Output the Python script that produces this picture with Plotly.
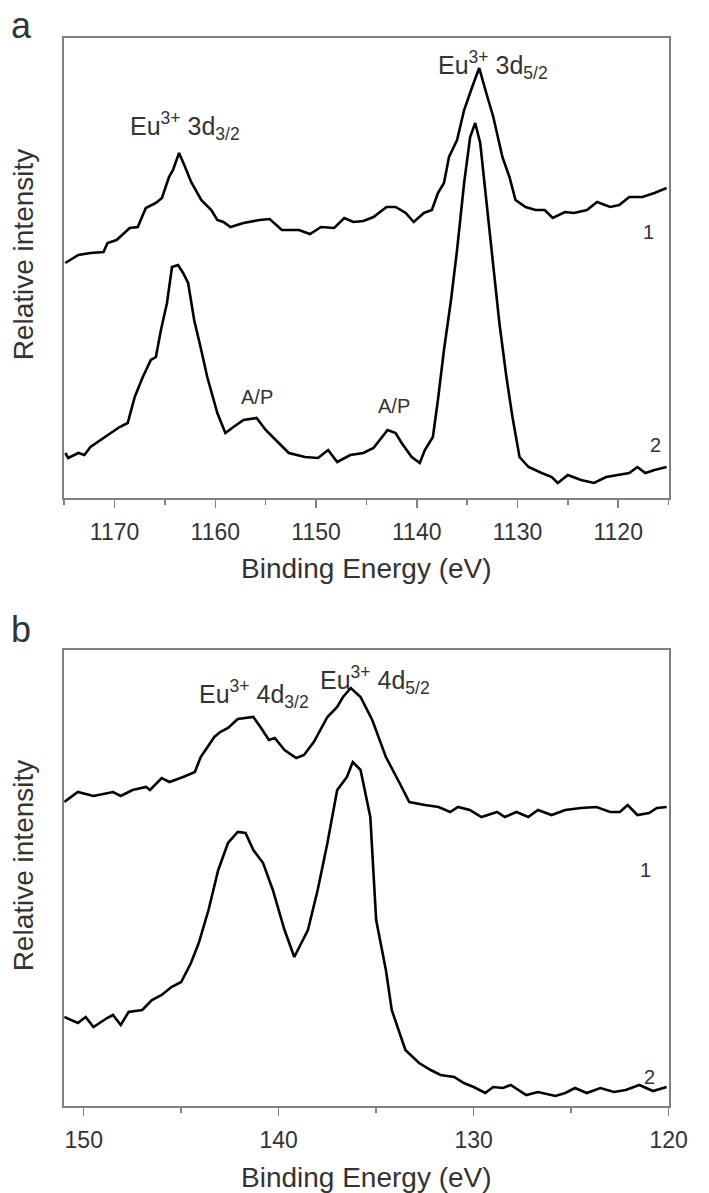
import plotly.graph_objects as go

# ---------------- Panel a : Eu 3d region ----------------
be_a1 = [1174.9, 1173.6, 1172.4, 1171.1, 1170.7, 1169.8, 1168.5, 1167.7, 1166.9, 1165.9,
         1165.3, 1164.6, 1164.2, 1163.6, 1163.0, 1162.4, 1161.4, 1160.4, 1159.8, 1159.2,
         1158.5, 1157.2, 1155.6, 1154.6, 1153.4, 1151.7, 1150.6, 1149.5, 1148.2, 1147.2,
         1146.3, 1145.3, 1144.3, 1143.0, 1142.1, 1141.1, 1140.3, 1139.3, 1138.5, 1137.9,
         1137.3, 1136.8, 1136.0, 1135.3, 1134.5, 1133.8, 1133.1, 1132.4, 1131.5, 1130.8,
         1130.2, 1129.2, 1128.2, 1127.3, 1126.5, 1125.3, 1124.4, 1123.1, 1122.1, 1120.8,
         1119.9, 1118.9, 1117.6, 1116.4, 1115.2]
int_a1 = [235, 243, 245, 246, 255, 258, 270, 271, 290, 295,
          300, 321, 328, 345, 331, 316, 298, 288, 278, 276,
          271, 275, 278, 279, 268, 268, 264, 271, 270, 280,
          276, 277, 281, 291, 291, 285, 276, 285, 288, 305,
          315, 341, 358, 388, 411, 430, 405, 381, 341, 321,
          298, 291, 288, 288, 280, 286, 285, 288, 296, 291,
          293, 301, 301, 305, 310]

be_a2 = [1174.9, 1174.6, 1173.6, 1173.0, 1172.4, 1171.4, 1170.4, 1169.5, 1168.7, 1168.0,
         1167.2, 1166.4, 1165.9, 1165.4, 1164.8, 1164.3, 1163.7, 1163.2, 1162.7, 1162.1,
         1161.4, 1160.8, 1159.8, 1159.0, 1158.2, 1157.2, 1155.9, 1155.0, 1153.7, 1152.7,
         1151.1, 1149.8, 1148.8, 1147.9, 1146.6, 1145.3, 1144.3, 1143.7, 1142.9, 1142.1,
         1141.5, 1140.5, 1139.7, 1139.2, 1138.4, 1137.9, 1137.3, 1136.6, 1136.0, 1135.3,
         1134.7, 1134.2, 1133.7, 1133.1, 1132.4, 1131.8, 1131.1, 1130.5, 1129.8, 1128.9,
         1127.6, 1126.6, 1126.0, 1125.0, 1123.7, 1122.4, 1121.2, 1119.9, 1118.9, 1118.1,
         1117.3, 1116.4, 1115.2]
int_a2 = [45, 40, 45, 43, 51, 58, 65, 71, 75, 101,
          121, 138, 141, 168, 195, 231, 233, 225, 215, 178,
          148, 121, 85, 65, 71, 78, 80, 68, 55, 45,
          41, 40, 48, 36, 43, 45, 50, 58, 68, 65,
          55, 41, 35, 48, 61, 98, 148, 198, 248, 315,
          361, 375, 355, 298, 231, 175, 121, 81, 41, 31,
          25, 21, 15, 23, 18, 15, 21, 23, 25, 31,
          25, 28, 31]

# ---------------- Panel b : Eu 4d region ----------------
be_b1 = [151.0, 150.3, 149.5, 148.5, 148.1, 147.5, 146.8, 146.6, 146.0, 145.6,
         144.9, 144.3, 144.0, 143.3, 143.0, 142.6, 142.1, 141.3, 140.9, 140.5,
         140.2, 139.7, 139.1, 138.7, 138.2, 137.5, 137.0, 136.7, 136.3, 135.8,
         135.2, 134.5, 133.8, 133.3, 132.5, 131.8, 131.2, 130.8, 130.2, 129.6,
         128.8, 128.4, 127.8, 127.2, 126.7, 126.0, 125.3, 124.5, 123.7, 123.0,
         122.5, 122.1, 121.6, 121.0, 120.6, 120.1]
int_b1 = [304, 314, 310, 314, 310, 316, 319, 316, 328, 324,
          329, 334, 349, 369, 374, 378, 387, 389, 378, 366,
          368, 356, 348, 351, 364, 389, 399, 409, 418, 409,
          386, 349, 323, 304, 301, 299, 294, 299, 296, 289,
          294, 289, 294, 289, 296, 291, 296, 298, 299, 294,
          294, 301, 291, 293, 298, 299]

be_b2 = [151.0, 150.3, 149.9, 149.5, 148.8, 148.5, 148.1, 147.7, 147.0, 146.5,
         146.0, 145.5, 145.0, 144.5, 144.1, 143.6, 143.1, 142.6, 142.1, 141.7,
         141.3, 140.8, 140.3, 139.7, 139.2, 138.5, 138.0, 137.5, 137.0, 136.5,
         136.2, 135.8, 135.3, 135.0, 134.5, 134.2, 133.5, 132.8, 132.2, 131.7,
         131.0, 130.5, 130.0, 129.4, 129.0, 128.5, 128.1, 127.3, 126.7, 125.8,
         125.3, 124.8, 124.2, 123.5, 122.8, 122.2, 121.5, 120.8, 120.1]
int_b2 = [89, 83, 89, 79, 88, 91, 81, 94, 96, 106,
          111, 119, 124, 143, 163, 196, 236, 263, 274, 273,
          256, 243, 216, 176, 149, 176, 216, 263, 316, 329,
          344, 336, 289, 186, 136, 96, 56, 43, 36, 31,
          29, 23, 19, 13, 19, 18, 21, 11, 14, 10,
          13, 18, 13, 18, 14, 16, 21, 15, 19]

ticks_a = [1170, 1160, 1150, 1140, 1130, 1120]
ticks_b = [150, 140, 130, 120]

FONT = "Liberation Sans, Arial, Helvetica, sans-serif"
TXT = "#333333"
FRAME = "#808080"
W, H = 709, 1193

fig = go.Figure()
line = dict(color="black", width=2.6)
fig.add_trace(go.Scatter(x=be_a1, y=int_a1, mode="lines", line=line, xaxis="x", yaxis="y", showlegend=False))
fig.add_trace(go.Scatter(x=be_a2, y=int_a2, mode="lines", line=line, xaxis="x", yaxis="y", showlegend=False))
fig.add_trace(go.Scatter(x=be_b1, y=int_b1, mode="lines", line=line, xaxis="x2", yaxis="y2", showlegend=False))
fig.add_trace(go.Scatter(x=be_b2, y=int_b2, mode="lines", line=line, xaxis="x2", yaxis="y2", showlegend=False))

xcommon = dict(showline=True, mirror=True, linecolor=FRAME, linewidth=2, showgrid=False, zeroline=False,
               ticks="outside", ticklen=8, tickwidth=1.5, tickcolor=FRAME,
               tickfont=dict(family=FONT, size=23, color=TXT), ticklabelstandoff=4)
ycommon = dict(showline=True, mirror=True, linecolor=FRAME, linewidth=2, showgrid=False, zeroline=False,
               showticklabels=False, ticks="")

dom_x = [66 / W, 687 / W]
fig.update_layout(
    width=W, height=H, margin=dict(l=0, r=0, t=0, b=0),
    paper_bgcolor="white", plot_bgcolor="white",
    xaxis=dict(domain=dom_x, range=[1175, 1115], tickvals=ticks_a,
               minor=dict(dtick=5, tick0=1115, ticks="outside", ticklen=5, tickcolor=FRAME, tickwidth=1.5),
               anchor="y", **xcommon),
    yaxis=dict(domain=[1 - 498 / H, 1 - 38 / H], range=[0, 460], anchor="x", **ycommon),
    xaxis2=dict(domain=dom_x, range=[151, 120], tickvals=ticks_b,
                minor=dict(dtick=5, tick0=120, ticks="outside", ticklen=5, tickcolor=FRAME, tickwidth=1.5),
                anchor="y2", **xcommon),
    yaxis2=dict(domain=[1 - 1106 / H, 1 - 650 / H], range=[0, 456], anchor="x2", **ycommon),
)

def ann(text, x, y, xref, yref, size, **kw):
    fig.add_annotation(text=text, x=x, y=y, xref=xref, yref=yref, showarrow=False,
                       font=dict(family=FONT, size=size, color=TXT), xanchor="center", yanchor="middle", **kw)

# peak labels panel a
ann("Eu<sup>3+</sup> 3d<sub>3/2</sub>", 1163.0, 372, "x", "y", 25)
ann("Eu<sup>3+</sup> 3d<sub>5/2</sub>", 1132.4, 433, "x", "y", 25)
ann("A/P", 1155.9, 101, "x", "y", 20)
ann("A/P", 1142.25, 92, "x", "y", 20)
ann("1", 1117.0, 266, "x", "y", 20)
ann("2", 1116.3, 53, "x", "y", 20)
# peak labels panel b
ann("Eu<sup>3+</sup> 4d<sub>3/2</sub>", 141.26, 412, "x2", "y2", 25)
ann("Eu<sup>3+</sup> 4d<sub>5/2</sub>", 135.07, 426, "x2", "y2", 25)
ann("1", 121.18, 236, "x2", "y2", 20)
ann("2", 121.0, 29, "x2", "y2", 20)

# axis titles and panel letters (paper coords)
ann("Binding Energy (eV)", 376.5 / W, 1 - 568 / H, "paper", "paper", 28)
ann("Binding Energy (eV)", 376.5 / W, 1 - 1177 / H, "paper", "paper", 28)
ann("Relative intensity", 24 / W, 1 - 254 / H, "paper", "paper", 28, textangle=-90)
ann("Relative intensity", 24 / W, 1 - 865 / H, "paper", "paper", 28, textangle=-90)
ann("a", 22 / W, 1 - 25 / H, "paper", "paper", 36)
ann("b", 22 / W, 1 - 630 / H, "paper", "paper", 36)

fig.write_html("out.html",
               config={"displayModeBar": False, "staticPlot": True},
               post_script="document.body.style.margin='0';document.body.style.padding='0';"
                           "document.body.style.overflow='hidden';")
